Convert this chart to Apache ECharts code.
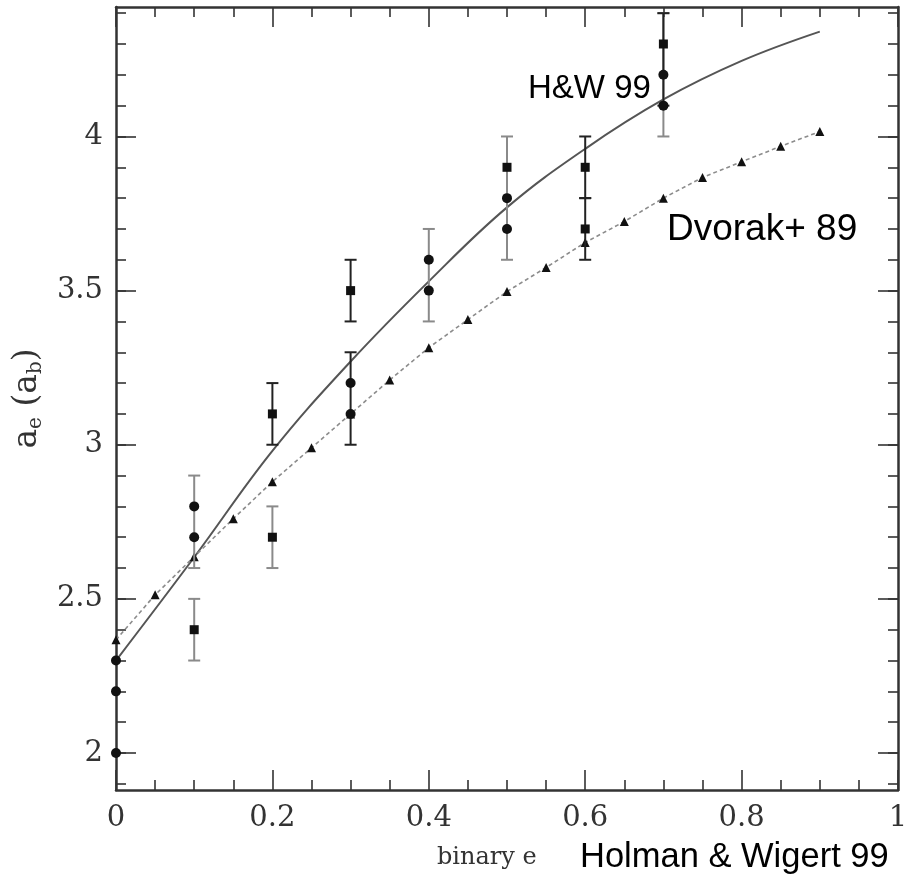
<!DOCTYPE html>
<html><head><meta charset="utf-8">
<script src="https://cdn.jsdelivr.net/npm/echarts@6/dist/echarts.min.js"></script>
<style>html,body{margin:0;padding:0;background:#fff}#c{width:913px;height:876px}</style>
</head><body><div id="c"></div>
<script>
// ---- data ----
const yMajorTicks = [2, 2.5, 3, 3.5, 4];
const yMinorTicks = [1.9,2,2.1,2.2,2.3,2.4,2.5,2.6,2.7,2.8,2.9,3,3.1,3.2,3.3,3.4,3.5,3.6,3.7,3.8,3.9,4,4.1,4.2,4.3,4.4];

// Holman & Wiegert 99 fit (solid curve)
const hwX = [0, 0.1, 0.2, 0.3, 0.4, 0.5, 0.6, 0.7, 0.8, 0.9];
const hwY = [2.30, 2.635, 2.98, 3.27, 3.53, 3.77, 3.96, 4.12, 4.245, 4.34];

// Dvorak+ 89 (triangles, dotted)
const dvX = [0,0.05,0.1,0.15,0.2,0.25,0.3,0.35,0.4,0.45,0.5,0.55,0.6,0.65,0.7,0.75,0.8,0.85,0.9];
const dvY = [2.367,2.513,2.637,2.76,2.88,2.99,3.10,3.21,3.315,3.406,3.497,3.575,3.656,3.724,3.80,3.867,3.918,3.968,4.016];

// simulation points
const circX = [0, 0, 0, 0.1, 0.1, 0.3, 0.3, 0.4, 0.4, 0.5, 0.5, 0.7, 0.7];
const circY = [2.0, 2.2, 2.3, 2.7, 2.8, 3.1, 3.2, 3.5, 3.6, 3.7, 3.8, 4.1, 4.2];
const sqX = [0.1, 0.2, 0.2, 0.3, 0.5, 0.6, 0.6, 0.7];
const sqY = [2.4, 2.7, 3.1, 3.5, 3.9, 3.7, 3.9, 4.3];

// error bars [x, low, high]
const errDarkX = [0.2, 0.3, 0.3, 0.6, 0.6, 0.7];
const errDarkLo = [3.0, 3.4, 3.0, 3.6, 3.8, 4.1];
const errDarkHi = [3.2, 3.6, 3.3, 3.8, 4.0, 4.4];
const errGreyX = [0.1, 0.1, 0.2, 0.4, 0.5, 0.7];
const errGreyLo = [2.3, 2.6, 2.6, 3.4, 3.6, 4.0];
const errGreyHi = [2.5, 2.9, 2.8, 3.7, 4.0, 4.4];

const Y_MIN = 1.88, Y_MAX = 4.42;

// ---- chart ----
const zip2 = (a, b) => a.map((v, i) => [v, b[i]]);
const zip3 = (a, b, c) => a.map((v, i) => [v, b[i], c[i]]);

const chart = echarts.init(document.getElementById('c'), null, {renderer: 'canvas'});
const AX = '#333';
const labelFont = {fontFamily: 'DejaVu Serif', fontSize: 29, color: '#333'};

function xAx(pos, showLabel) {
  return {
    type: 'value', min: 0, max: 1, interval: 0.2, position: pos,
    axisLine: {show: true, lineStyle: {color: AX, width: 2.5}},
    axisTick: {show: true, inside: true, length: 20, lineStyle: {color: AX, width: 1.6}},
    minorTick: {show: true, splitNumber: 4, length: 10, lineStyle: {color: AX, width: 1.6}},
    splitLine: {show: false}, minorSplitLine: {show: false},
    axisLabel: Object.assign({show: showLabel, margin: 14}, labelFont)
  };
}
function yAx(pos, major, showLabel, showLine) {
  return {
    type: 'value', min: Y_MIN, max: Y_MAX, position: pos,
    axisLine: {show: showLine, lineStyle: {color: AX, width: 2.5}},
    axisTick: {show: true, inside: true, length: major ? 20 : 10,
      customValues: major ? yMajorTicks : yMinorTicks, lineStyle: {color: AX, width: 1.6}},
    splitLine: {show: false},
    axisLabel: Object.assign({show: showLabel, margin: 13,
      customValues: major ? yMajorTicks : yMinorTicks}, labelFont)
  };
}

function errRender(color) {
  return function (params, api) {
    const x = api.value(0), lo = api.value(1), hi = api.value(2);
    const p1 = api.coord([x, lo]), p2 = api.coord([x, hi]);
    const w = 6;
    const style = {stroke: color, lineWidth: 2};
    return {type: 'group', children: [
      {type: 'line', shape: {x1: p1[0], y1: p1[1], x2: p2[0], y2: p2[1]}, style: style},
      {type: 'line', shape: {x1: p1[0] - w, y1: p1[1], x2: p1[0] + w, y2: p1[1]}, style: style},
      {type: 'line', shape: {x1: p2[0] - w, y1: p2[1], x2: p2[0] + w, y2: p2[1]}, style: style}
    ]};
  };
}

const option = {
  backgroundColor: '#fff',
  animation: false,
  grid: {left: 116, right: 15, top: 7, bottom: 86, containLabel: false},
  xAxis: [xAx('bottom', true), xAx('top', false)],
  yAxis: [
    Object.assign(yAx('left', true, true, true), {
      name: '{a|a}{s|e}{a| (a}{s|b}{a|)}', nameLocation: 'middle', nameRotate: 90, nameGap: 55,
      nameTextStyle: {rich: {
        a: {fontFamily: 'DejaVu Serif', fontSize: 33, color: '#333'},
        s: {fontFamily: 'DejaVu Serif', fontSize: 20, color: '#333', verticalAlign: 'bottom', padding: [18, 0, 0, 0]}
      }}
    }),
    yAx('left', false, false, false),
    yAx('right', true, false, true),
    yAx('right', false, false, false)
  ],
  series: [
    {type: 'line', name: 'HW', data: zip2(hwX, hwY), smooth: 0.4, showSymbol: false,
      lineStyle: {color: '#555', width: 2}, z: 3},
    {type: 'line', name: 'Dvorak', data: zip2(dvX, dvY), symbol: 'triangle', symbolSize: 9,
      itemStyle: {color: '#111', opacity: 1}, lineStyle: {color: '#8c8c8c', width: 1.6, type: [4, 3]}, z: 3},
    {type: 'custom', name: 'errGrey', data: zip3(errGreyX, errGreyLo, errGreyHi),
      renderItem: errRender('#8a8a8a'), encode: {x: 0, y: [1, 2]}, clip: false, z: 4},
    {type: 'custom', name: 'errDark', data: zip3(errDarkX, errDarkLo, errDarkHi),
      renderItem: errRender('#222'), encode: {x: 0, y: [1, 2]}, clip: false, z: 5},
    {type: 'scatter', name: 'circ', data: zip2(circX, circY), symbol: 'circle', symbolSize: 10,
      itemStyle: {color: '#111', opacity: 1}, clip: false, z: 6},
    {type: 'scatter', name: 'sq', data: zip2(sqX, sqY), symbol: 'rect', symbolSize: 9,
      itemStyle: {color: '#111', opacity: 1}, clip: false, z: 6}
  ],
  graphic: [
    {type: 'text', left: 528, top: 72, style: {text: 'H&W 99', font: '33px "Liberation Sans"', fill: '#000'}},
    {type: 'text', left: 667, top: 211, style: {text: 'Dvorak+ 89', font: '37px "Liberation Sans"', fill: '#000'}},
    {type: 'text', left: 580, top: 840, style: {text: 'Holman & Wigert 99', font: '34.5px "Liberation Sans"', fill: '#000'}},
    {type: 'text', left: 437, top: 846, style: {text: 'binary e', font: '24px "DejaVu Serif"', fill: '#333'}}
  ]
};
chart.setOption(option);
</script></body></html>
